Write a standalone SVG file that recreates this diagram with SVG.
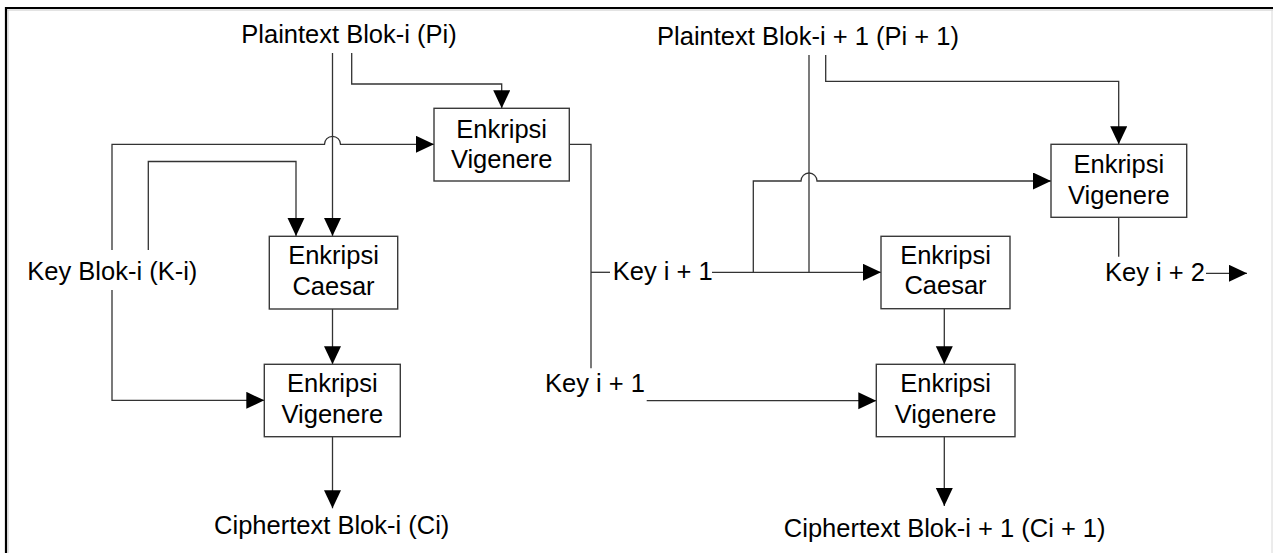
<svg xmlns="http://www.w3.org/2000/svg" width="1273" height="553" viewBox="0 0 1273 553">
  <defs>
    <style>
      .box { fill: #ffffff; stroke: #3a3a3a; stroke-width: 1.4; }
      .t { font-family: "Liberation Sans", Arial, sans-serif; font-size: 25.5px; fill: #000000; }
      .c { text-anchor: middle; }
      .ln { fill: none; stroke: #333333; stroke-width: 1.3; }
      .arr { fill: none; stroke: #333333; stroke-width: 1.3; marker-end: url(#ah); }
    </style>
    <marker id="ah" markerUnits="userSpaceOnUse" markerWidth="20" markerHeight="18" refX="18" refY="8.5" orient="auto">
      <path d="M0,0 L18,8.5 L0,17 Z" fill="#000000"/>
    </marker>
  </defs>
  <rect x="0" y="0" width="1273" height="553" fill="#ffffff"/>
  <g id="frame">
    <line x1="5" y1="8" x2="1273" y2="8" stroke="#000000" stroke-width="2.2"/>
    <line x1="5" y1="10" x2="1273" y2="10" stroke="#c8c8c8" stroke-width="1"/>
    <line x1="6" y1="7" x2="6" y2="553" stroke="#000000" stroke-width="2.2"/>
    <line x1="8" y1="10" x2="8" y2="553" stroke="#c8c8c8" stroke-width="1"/>
    <line x1="1272" y1="9" x2="1272" y2="553" stroke="#d8d8d8" stroke-width="1"/>
  </g>
  <g id="connectors">
    <path class="arr" d="M332.5,53 V236"/>
    <path class="arr" d="M351.7,53 V84 H501.7 V108.3"/>
    <path class="arr" d="M112,250 V144.3 H324.5 A8,8 0 0 1 340.5,144.3 H434"/>
    <path class="arr" d="M148.3,250 V161.5 H296 V236"/>
    <path class="arr" d="M112,290 V400.3 H264.3"/>
    <path class="arr" d="M332.5,309 V364.3"/>
    <path class="arr" d="M332.5,436.7 V508.3"/>
    <path class="ln" d="M569.3,144.3 H591 V368.3"/>
    <path class="ln" d="M591,272.3 H610"/>
    <path class="arr" d="M712,272.3 H881"/>
    <path class="arr" d="M753.3,272.3 V181 H801 A8,8 0 0 1 817,181 H1051"/>
    <path class="ln" d="M809,55 V272.3"/>
    <path class="arr" d="M825.7,55 V81.3 H1118.7 V144.3"/>
    <path class="arr" d="M646.7,400.7 H876.3"/>
    <path class="arr" d="M944.3,308.7 V364.3"/>
    <path class="arr" d="M944.3,436.7 V506"/>
    <path class="ln" d="M1118.7,217.3 V256.7"/>
    <path class="arr" d="M1206,273.3 H1247"/>
  </g>
  <g id="vigenere-top-left">
    <rect class="box" x="434" y="108.3" width="135.3" height="72.7"/>
    <text class="t c" x="501.7" y="137.5">Enkripsi</text>
    <text class="t c" x="501.7" y="168">Vigenere</text>
  </g>
  <g id="caesar-left">
    <rect class="box" x="269.3" y="236.3" width="128.4" height="72.7"/>
    <text class="t c" x="333.5" y="264">Enkripsi</text>
    <text class="t c" x="333.5" y="295">Caesar</text>
  </g>
  <g id="vigenere-left">
    <rect class="box" x="264.3" y="364.3" width="136" height="72.4"/>
    <text class="t c" x="332.3" y="392.3">Enkripsi</text>
    <text class="t c" x="332.3" y="422.7">Vigenere</text>
  </g>
  <g id="vigenere-top-right">
    <rect class="box" x="1051" y="144.3" width="135.7" height="73"/>
    <text class="t c" x="1118.8" y="173.3">Enkripsi</text>
    <text class="t c" x="1118.8" y="204">Vigenere</text>
  </g>
  <g id="caesar-right">
    <rect class="box" x="881" y="236.3" width="129" height="72.4"/>
    <text class="t c" x="945.5" y="263.5">Enkripsi</text>
    <text class="t c" x="945.5" y="293.5">Caesar</text>
  </g>
  <g id="vigenere-right">
    <rect class="box" x="876.3" y="364.3" width="138.7" height="72.4"/>
    <text class="t c" x="945.6" y="392.3">Enkripsi</text>
    <text class="t c" x="945.6" y="422.7">Vigenere</text>
  </g>
  <g id="plaintext-i">
    <text class="t c" x="349" y="43">Plaintext Blok-i (Pi)</text>
  </g>
  <g id="plaintext-i1">
    <text class="t c" x="808" y="45">Plaintext Blok-i + 1 (Pi + 1)</text>
  </g>
  <g id="key-i">
    <text class="t c" x="112.3" y="280">Key Blok-i (K-i)</text>
  </g>
  <g id="key-i1-a">
    <text class="t" x="612.7" y="280">Key i + 1</text>
  </g>
  <g id="key-i1-b">
    <text class="t c" x="595" y="391.7">Key i + 1</text>
  </g>
  <g id="key-i2">
    <text class="t" x="1105" y="280.7">Key i + 2</text>
  </g>
  <g id="ciphertext-i">
    <text class="t c" x="331.7" y="534">Ciphertext Blok-i (Ci)</text>
  </g>
  <g id="ciphertext-i1">
    <text class="t c" x="944.7" y="536.5">Ciphertext Blok-i + 1 (Ci + 1)</text>
  </g>
</svg>
